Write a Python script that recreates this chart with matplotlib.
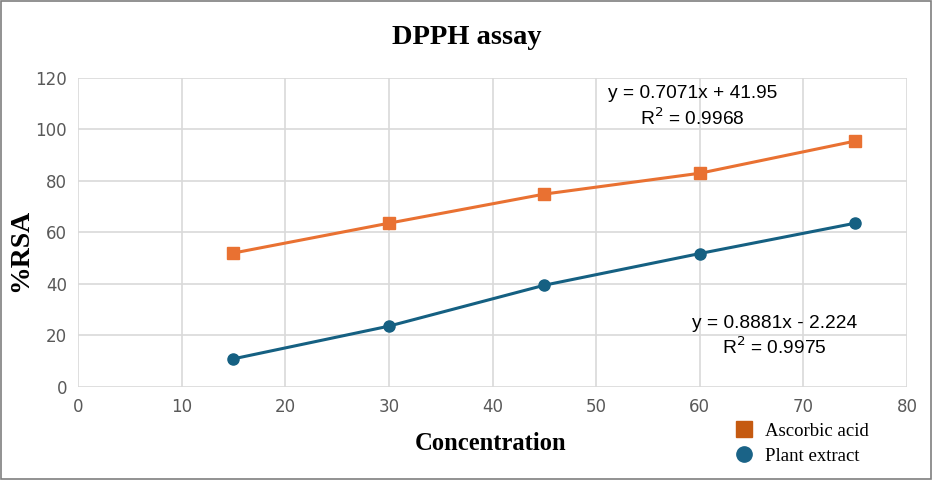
import matplotlib.pyplot as plt
from matplotlib.lines import Line2D
from matplotlib.patches import Rectangle

concentration = [15, 30, 45, 60, 75]
ascorbic_acid = [52.0, 63.6, 74.9, 83.0, 95.5]
plant_extract = [10.9, 23.6, 39.5, 51.8, 63.6]

eq_ascorbic = "y = 0.7071x + 41.95\nR$^2$ = 0.9968"
eq_plant = "y = 0.8881x - 2.224\nR$^2$ = 0.9975"

orange = "#E97132"
blue = "#156082"

fig = plt.figure(figsize=(9.33, 4.8), dpi=100)
ax = fig.add_axes([0.0836, 0.194, 0.8886, 0.6435])

ax.plot(concentration, ascorbic_acid, color=orange, lw=2.2, marker="s", ms=9)
ax.plot(concentration, plant_extract, color=blue, lw=2.2, marker="o", ms=8)

ax.set_xlim(0, 80)
ax.set_ylim(0, 120)
ax.set_xticks(range(0, 81, 10))
ax.set_yticks(range(0, 121, 20))
ax.grid(True, color="#d9d9d9", lw=1.2)
ax.set_axisbelow(True)
for s in ax.spines.values():
    s.set_visible(False)
ax.tick_params(length=0, labelsize=12, labelcolor="#595959", pad=8)

# trendline equations
ax.text(59.3, 108.7, eq_ascorbic, ha="center", va="center", fontsize=13.8,
        linespacing=1.3, family="Liberation Sans")
ax.text(67.2, 19.6, eq_plant, ha="center", va="center", fontsize=13.8,
        linespacing=1.3, family="Liberation Sans")

serif = "Liberation Serif"
fig.text(0.5, 0.922, "DPPH assay", ha="center", va="center", fontsize=20.5,
         fontweight="bold", family=serif)
fig.text(0.526, 0.075, "Concentration", ha="center", va="center", fontsize=17.7,
         fontweight="bold", family=serif)
fig.text(0.022, 0.479, "%RSA", ha="center", va="center", rotation=90,
         fontsize=20, fontweight="bold", family=serif)

handles = [
    Line2D([], [], ls="none", marker="s", ms=12, color="#C55A11"),
    Line2D([], [], ls="none", marker="o", ms=11, color="#1A6387"),
]
fig.legend(handles, ["Ascorbic acid", "Plant extract"], loc="lower left",
           bbox_to_anchor=(0.768, -0.004), frameon=False,
           prop={"family": serif, "size": 13.5}, handlelength=1.1,
           labelspacing=0.42, handletextpad=0.6)

fig.patches.append(Rectangle((0.001, 0.002), 0.997, 0.995, transform=fig.transFigure,
                             fill=False, ec="#7f7f7f", lw=1.2))

fig.savefig("out.png", dpi=100)
